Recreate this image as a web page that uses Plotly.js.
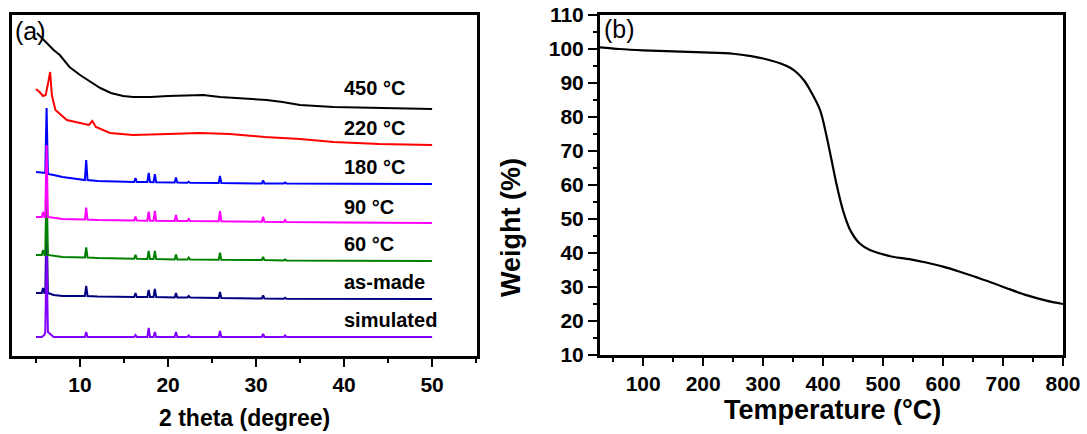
<!DOCTYPE html>
<html>
<head>
<meta charset="utf-8">
<script src="https://cdn.plot.ly/plotly-3.0.1.min.js"></script>
<style>html,body{margin:0;padding:0;background:#fff;}#chart{width:1087px;height:434px;}</style>
</head>
<body>
<div id="chart"></div>
<script>
// ---- Panel (a): XRD patterns (stacked, arbitrary intensity units) ----
const crystX = [5.0, 5.65, 5.8, 5.95, 6.05, 6.2, 6.35, 7.0, 8.0, 10.55, 10.7, 10.85, 12.0, 16.15, 16.3, 16.45, 17.65, 17.8, 17.95, 18.35, 18.5, 18.65, 20.75, 20.9, 21.05, 22.2, 22.35, 22.5, 25.75, 25.9, 26.05, 30.65, 30.8, 30.95, 33.15, 33.3, 33.45, 40.0, 50.0];
const simulatedY = [20, 20, 21, 22, 25, 102, 25, 20, 20, 20, 25, 20, 20, 20, 22, 20, 20, 29, 20, 20, 25, 20, 20, 25, 20, 20, 21.5, 20, 20, 26, 20, 20, 23, 20, 20, 21.5, 20, 20, 20];
const asMadeY = [64, 64, 69, 64, 64, 140, 64, 62, 61, 61, 71, 61, 60.5, 60, 64, 60, 60, 67, 60, 60, 68, 60, 59.5, 64, 59.5, 59.5, 61, 59.5, 59, 65, 59, 58.5, 61.5, 58.5, 58.3, 59.3, 58.3, 58, 58];
const t60Y = [102, 102, 107, 102, 102, 178, 102, 101, 100, 99.5, 109.5, 99.5, 99, 98.3, 102.3, 98.3, 98, 106, 98, 98, 106, 98, 97.5, 102.5, 97.5, 97.5, 99.5, 97.5, 97.3, 104.3, 97.3, 97, 100, 97, 96.6, 97.6, 96.6, 96.2, 96];
const t90Y = [140, 140, 145, 140, 140, 212, 140, 139, 138, 137.5, 149.5, 137.5, 137, 136.5, 140.5, 136.5, 136.3, 145.3, 136.3, 136.2, 146.2, 136.2, 136, 142, 136, 136, 138, 136, 135.8, 145.8, 135.8, 135.3, 140.3, 135.3, 135, 137, 135, 134.5, 134];
const t180Y = [185, 184.5, 184.3, 184, 184, 249, 183, 182, 180, 177, 197, 177, 176, 175, 179, 175, 175, 184, 175, 174.8, 182.8, 174.8, 174.5, 179.5, 174.5, 174.3, 175.3, 174.3, 174, 181, 174, 173.5, 176.5, 173.5, 173.5, 174.5, 173.5, 173.2, 173];
const t220X = [5.0, 5.4, 5.8, 6.1, 6.4, 6.6, 6.8, 7.2, 8.5, 10.0, 11.0, 11.4, 11.8, 13.4, 16.0, 20.0, 23.6, 27.0, 31.0, 35.0, 38.8, 44.0, 50.0];
const t220Y = [268, 265, 261, 262, 275, 285, 262, 247, 237, 234, 232, 236, 230, 224, 222, 223, 224, 223, 220, 218, 215, 213, 212];
const t450X = [5.1, 6.0, 7.0, 7.7, 8.8, 10.0, 11.0, 12.3, 13.5, 14.9, 16.0, 18.0, 20.0, 22.5, 24.0, 25.9, 28.0, 31.2, 33.0, 35.0, 38.8, 44.0, 50.0];
const t450Y = [324, 316, 307, 302, 290, 282, 276, 269, 264, 261, 260, 260, 261, 262, 262, 260, 259, 257, 255, 252, 250, 249, 248];
const xrdLabels = ["450 °C", "220 °C", "180 °C", "90 °C", "60 °C", "as-made", "simulated"];
const xrdLabelY = [269, 229, 190, 150, 113, 75, 37];
const thetaTicks = [10, 20, 30, 40, 50];

// ---- Panel (b): TGA ----
const tgaT = [28, 60, 100, 150, 200, 250, 280, 300, 328, 345, 356, 368, 378, 395, 406, 414, 422, 433, 445, 461, 478, 500, 516, 550, 572, 600, 628, 655, 683, 710, 739, 772, 800];
const tgaW = [100.5, 100, 99.6, 99.3, 99, 98.6, 97.9, 97.2, 95.8, 94.5, 93.1, 90.8, 88, 82, 74.2, 67.4, 60.5, 52.6, 46.8, 42.8, 40.9, 39.6, 38.9, 38, 37.2, 36, 34.5, 32.9, 31.2, 29.4, 27.6, 26, 25];
const tempTicks = [100, 200, 300, 400, 500, 600, 700, 800];
const weightTicks = [10, 20, 30, 40, 50, 60, 70, 80, 90, 100, 110];

const F = "Liberation Sans, Arial, sans-serif";
function xrd(x, y, color) {
  return {x: x, y: y, xaxis: 'x', yaxis: 'y', mode: 'lines', line: {color: color, width: 2}, hoverinfo: 'skip'};
}
const traces = [
  xrd(t450X, t450Y, '#000000'),
  xrd(t220X, t220Y, '#FF0000'),
  xrd(crystX, t180Y, '#0000FF'),
  xrd(crystX, asMadeY, '#000080'),
  xrd(crystX, simulatedY, '#8000FF'),
  xrd(crystX, t60Y, '#008000'),
  xrd(crystX, t90Y, '#FF00FF'),
  {x: tgaT, y: tgaW, xaxis: 'x2', yaxis: 'y2', mode: 'lines', line: {color: '#000', width: 2.2, shape: 'spline', smoothing: 0.8}, hoverinfo: 'skip'}
];

const tickFont = {family: F, size: 21, color: '#000'};
const bold = v => v.map(t => '<b>' + t + '</b>');
const baseAxis = {showline: true, linecolor: '#000', linewidth: 3, mirror: true, showgrid: false, zeroline: false, fixedrange: true};

function paperNote(text, px, py, size, weight, angle) {
  return {text: text, x: px/1087, y: 1 - py/434, xref: 'paper', yref: 'paper', xanchor: 'center', yanchor: 'middle',
    showarrow: false, textangle: angle || 0, font: {family: F, size: size, color: '#000', weight: weight}};
}
const annotations = xrdLabels.map((t, i) => ({
  text: t, x: 39.8, y: xrdLabelY[i], xref: 'x', yref: 'y', xanchor: 'left', yanchor: 'middle',
  showarrow: false, font: {family: F, size: 20, color: '#000', weight: 700}
}));
annotations.push(
  paperNote('(a)', 30, 31, 25, 400),
  paperNote('(b)', 619, 29, 25, 400),
  paperNote('2 theta (degree)', 244, 418, 23, 700),
  paperNote('Temperature (°C)', 832, 410, 27, 700),
  paperNote('Weight (%)', 511, 228, 27, 700, -90)
);

const layout = {
  width: 1087, height: 434,
  margin: {l: 0, r: 0, t: 0, b: 0},
  paper_bgcolor: '#fff', plot_bgcolor: '#fff',
  showlegend: false,
  xaxis: Object.assign({}, baseAxis, {
    domain: [12/1087, 477/1087], range: [2.27, 55.1], anchor: 'y',
    tickmode: 'array', tickvals: thetaTicks, ticktext: bold(thetaTicks),
    ticks: 'outside', ticklen: 8, tickwidth: 2.5, tickcolor: '#000',
    minor: {tickmode: 'linear', dtick: 5, tick0: 0, ticks: 'outside', ticklen: 4, tickwidth: 2, tickcolor: '#000'},
    tickfont: tickFont
  }),
  yaxis: Object.assign({}, baseAxis, {
    domain: [(434-356)/434, (434-15)/434], range: [1, 342], anchor: 'x',
    ticks: '', showticklabels: false
  }),
  xaxis2: Object.assign({}, baseAxis, {
    domain: [600/1087, 1063/1087], range: [28, 800], anchor: 'y2',
    tickmode: 'array', tickvals: tempTicks, ticktext: bold(tempTicks),
    ticks: 'outside', ticklen: 8, tickwidth: 2.5, tickcolor: '#000',
    minor: {tickmode: 'linear', dtick: 50, tick0: 0, ticks: 'outside', ticklen: 4, tickwidth: 2, tickcolor: '#000'},
    tickfont: tickFont
  }),
  yaxis2: Object.assign({}, baseAxis, {
    domain: [(434-355)/434, (434-15)/434], range: [10, 110], anchor: 'x2',
    tickmode: 'array', tickvals: weightTicks, ticktext: bold(weightTicks),
    ticks: 'outside', ticklen: 9, tickwidth: 2.5, tickcolor: '#000',
    minor: {tickmode: 'linear', dtick: 5, tick0: 0, ticks: 'outside', ticklen: 4, tickwidth: 2, tickcolor: '#000'},
    tickfont: tickFont
  }),
  annotations: annotations
};

Plotly.newPlot('chart', traces, layout, {staticPlot: true, displayModeBar: false});
</script>
</body>
</html>
